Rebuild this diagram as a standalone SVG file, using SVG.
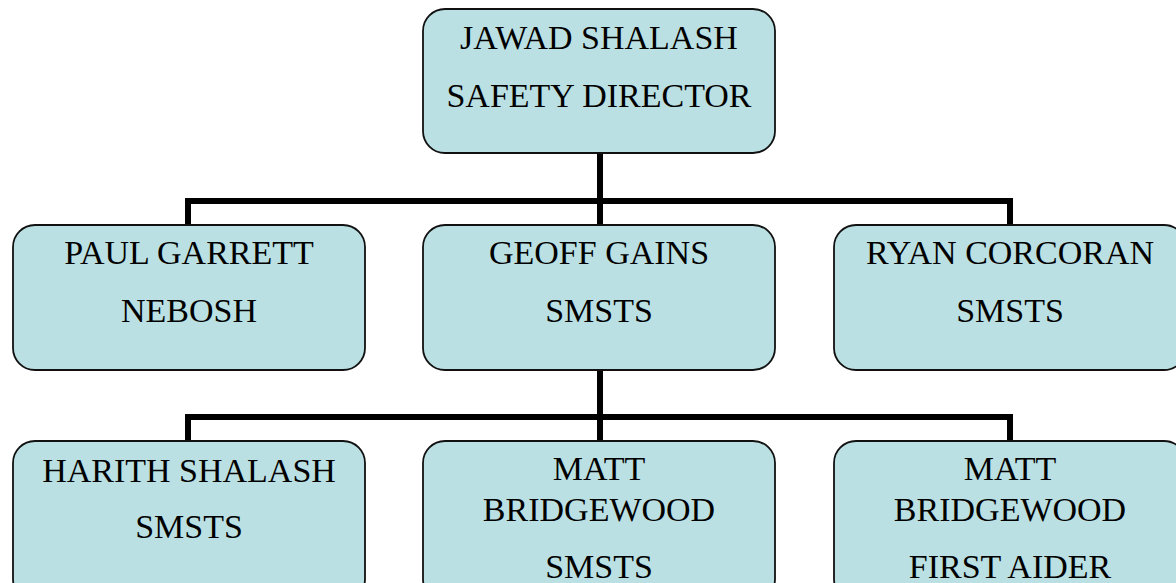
<svg xmlns="http://www.w3.org/2000/svg" width="1176" height="583" viewBox="0 0 1176 583">
<style>
.box{fill:#BBE0E3;stroke:#111;stroke-width:1.8}
.t{font-family:"Liberation Serif","Times New Roman",serif;font-size:34px;fill:#000;text-anchor:middle}
.c{stroke:#000;stroke-width:6;fill:none;stroke-linecap:square}
</style>
<rect width="1176" height="583" fill="#fff"/>
<g id="connectors">
<path class="c" d="M600 154V225M188 201H1010M188 201V224M1010 201V224"/>
<path class="c" d="M600 371V440M188 417H1010M188 417V440M1010 417V440"/>
</g>
<g id="jawad">
<rect class="box" x="423" y="9" width="352" height="144" rx="22"/>
<text class="t" x="599" y="49">JAWAD SHALASH</text>
<text class="t" x="599" y="107">SAFETY DIRECTOR</text>
</g>
<g id="paul">
<rect class="box" x="13" y="225" width="352" height="145" rx="22"/>
<text class="t" x="189" y="264">PAUL GARRETT</text>
<text class="t" x="189" y="322">NEBOSH</text>
</g>
<g id="geoff">
<rect class="box" x="423" y="225" width="352" height="145" rx="22"/>
<text class="t" x="599" y="264">GEOFF GAINS</text>
<text class="t" x="599" y="322">SMSTS</text>
</g>
<g id="ryan">
<rect class="box" x="834" y="225" width="352" height="145" rx="22"/>
<text class="t" x="1010" y="264">RYAN CORCORAN</text>
<text class="t" x="1010" y="322">SMSTS</text>
</g>
<g id="harith">
<rect class="box" x="13" y="441" width="352" height="160" rx="22"/>
<text class="t" x="189" y="482">HARITH SHALASH</text>
<text class="t" x="189" y="538">SMSTS</text>
</g>
<g id="matt1">
<rect class="box" x="423" y="441" width="352" height="160" rx="22"/>
<text class="t" x="599" y="480">MATT</text>
<text class="t" x="599" y="521">BRIDGEWOOD</text>
<text class="t" x="599" y="578">SMSTS</text>
</g>
<g id="matt2">
<rect class="box" x="834" y="441" width="352" height="160" rx="22"/>
<text class="t" x="1010" y="480">MATT</text>
<text class="t" x="1010" y="521">BRIDGEWOOD</text>
<text class="t" x="1010" y="578">FIRST AIDER</text>
</g>
</svg>
